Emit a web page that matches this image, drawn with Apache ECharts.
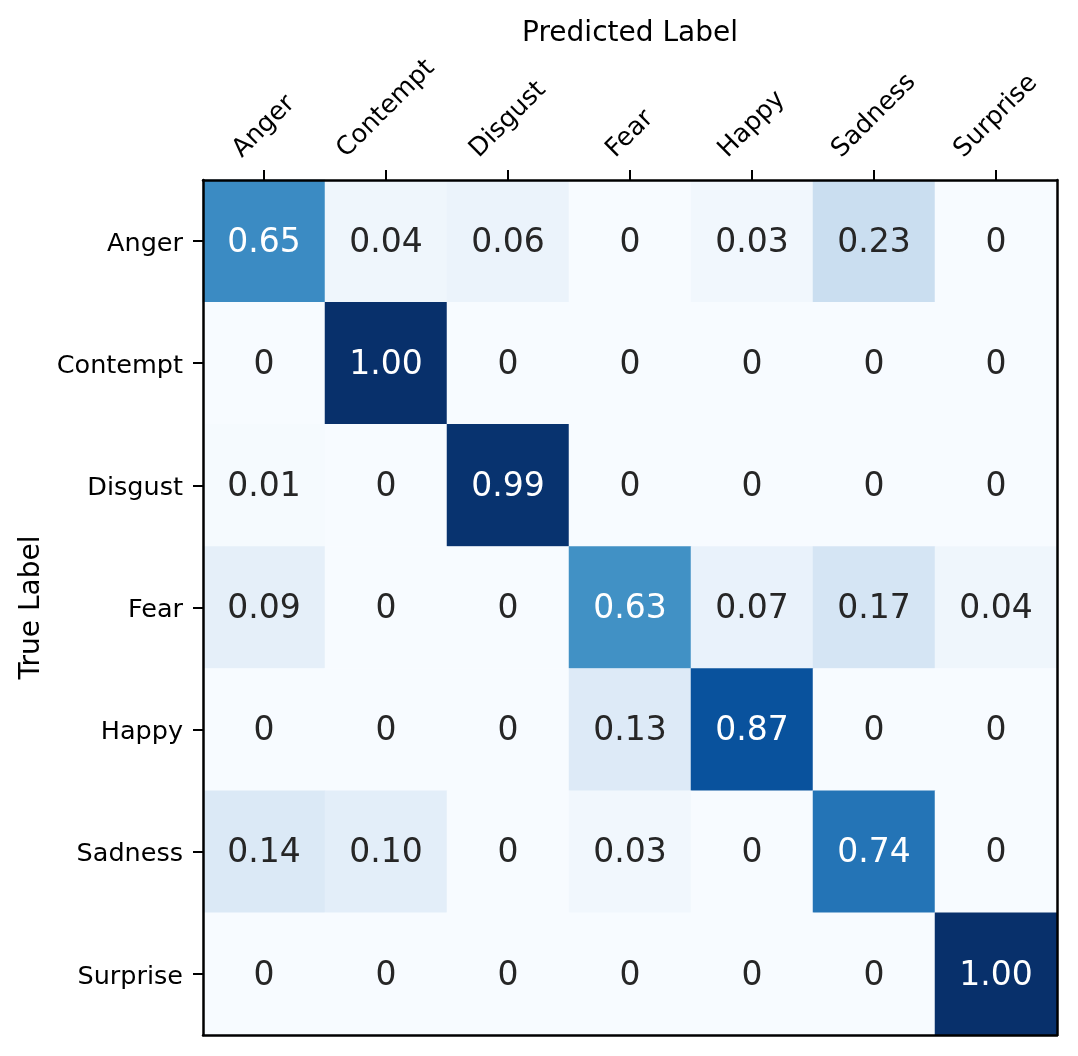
<!DOCTYPE html>
<html><head><meta charset="utf-8">
<script src="https://cdn.jsdelivr.net/npm/echarts@6/dist/echarts.min.js"></script>
<style>html,body{margin:0;padding:0;background:#fff}#c{width:1078px;height:1056px}</style>
</head><body><div id="c"></div>
<script>
const predictedLabels = ['Anger', 'Contempt', 'Disgust', 'Fear', 'Happy', 'Sadness', 'Surprise'];
const trueLabels = ['Anger', 'Contempt', 'Disgust', 'Fear', 'Happy', 'Sadness', 'Surprise'];
const rowAnger    = [0.65, 0.04, 0.06, 0,    0.03, 0.23, 0];
const rowContempt = [0,    1.00, 0,    0,    0,    0,    0];
const rowDisgust  = [0.01, 0,    0.99, 0,    0,    0,    0];
const rowFear     = [0.09, 0,    0,    0.63, 0.07, 0.17, 0.04];
const rowHappy    = [0,    0,    0,    0.13, 0.87, 0,    0];
const rowSadness  = [0.14, 0.10, 0,    0.03, 0,    0.74, 0];
const rowSurprise = [0,    0,    0,    0,    0,    0,    1.00];
const rows = [rowAnger, rowContempt, rowDisgust, rowFear, rowHappy, rowSadness, rowSurprise];

const FONT = 'DejaVu Sans';
const tickFont = 25.5;
const lineH = tickFont * 1.164;
const blues = ['#f7fbff','#deebf7','#c6dbef','#9ecae1','#6baed6','#4292c6','#2171b5','#08519c','#08306b'];

const data = [];
rows.forEach((r, yi) => r.forEach((v, xi) => data.push({
  value: [xi, yi, v],
  label: {color: v > 0.5 ? '#fff' : '#262626'}
})));

// rotated top labels centred over their ticks (matplotlib style)
const ctx = document.createElement('canvas').getContext('2d');
ctx.font = tickFont + 'px "' + FONT + '"';
const rich = {};
predictedLabels.forEach((n, i) => {
  const L = ctx.measureText(n).width;
  const p = 0.5 * (L + lineH);
  rich['l' + i] = {fontSize: tickFont, fontFamily: FONT, color: '#000', lineHeight: lineH, padding: [0, 0, p, p]};
});
const yRich = {y: {fontSize: tickFont, fontFamily: FONT, color: '#000', lineHeight: lineH, padding: [6, 0, 0, 0]}};

const frameAxis = {show: true, lineStyle: {color: '#000', width: 2.5}};
const chart = echarts.init(document.getElementById('c'));
chart.setOption({
  animation: false,
  backgroundColor: '#fff',
  textStyle: {fontFamily: FONT},
  grid: {left: 203, right: 21, top: 180, bottom: 21, outerBoundsMode: 'none', containLabel: false},
  visualMap: {show: false, min: 0, max: 1, dimension: 2, inRange: {color: blues}},
  xAxis: [{
    type: 'category', position: 'top', data: predictedLabels,
    name: 'Predicted Label', nameLocation: 'middle', nameGap: 131,
    nameTextStyle: {fontSize: 28, color: '#000', fontFamily: FONT},
    axisLine: frameAxis,
    axisTick: {show: true, alignWithLabel: true, length: 10, lineStyle: {color: '#000', width: 2}},
    axisLabel: {
      interval: 0, rotate: -45, margin: 16, align: 'center', verticalAlign: 'middle',
      formatter: (v, i) => '{l' + i + '|' + v + '}', rich: rich
    },
    splitLine: {show: false}, z: 10
  }, {
    type: 'category', position: 'bottom', data: predictedLabels,
    axisLine: frameAxis, axisTick: {show: false}, axisLabel: {show: false}, splitLine: {show: false}, z: 10
  }],
  yAxis: [{
    type: 'category', inverse: true, data: trueLabels,
    name: 'True Label', nameLocation: 'middle', nameGap: 152,
    nameTextStyle: {fontSize: 28, color: '#000', fontFamily: FONT},
    axisLine: frameAxis,
    axisTick: {show: true, alignWithLabel: true, length: 10, lineStyle: {color: '#000', width: 2}},
    axisLabel: {interval: 0, margin: 20, formatter: v => '{y|' + v + '}', rich: yRich},
    splitLine: {show: false}, z: 10
  }, {
    type: 'category', position: 'right', inverse: true, data: trueLabels,
    axisLine: frameAxis, axisTick: {show: false}, axisLabel: {show: false}, splitLine: {show: false}, z: 10
  }],
  series: [{
    type: 'heatmap', data: data, xAxisIndex: 0, yAxisIndex: 0,
    label: {
      show: true, fontSize: 33, fontFamily: FONT, offset: [0, 2],
      formatter: p => { const v = p.value[2]; return v === 0 ? '0' : v.toFixed(2); }
    },
    emphasis: {disabled: true}
  }]
});
</script></body></html>
